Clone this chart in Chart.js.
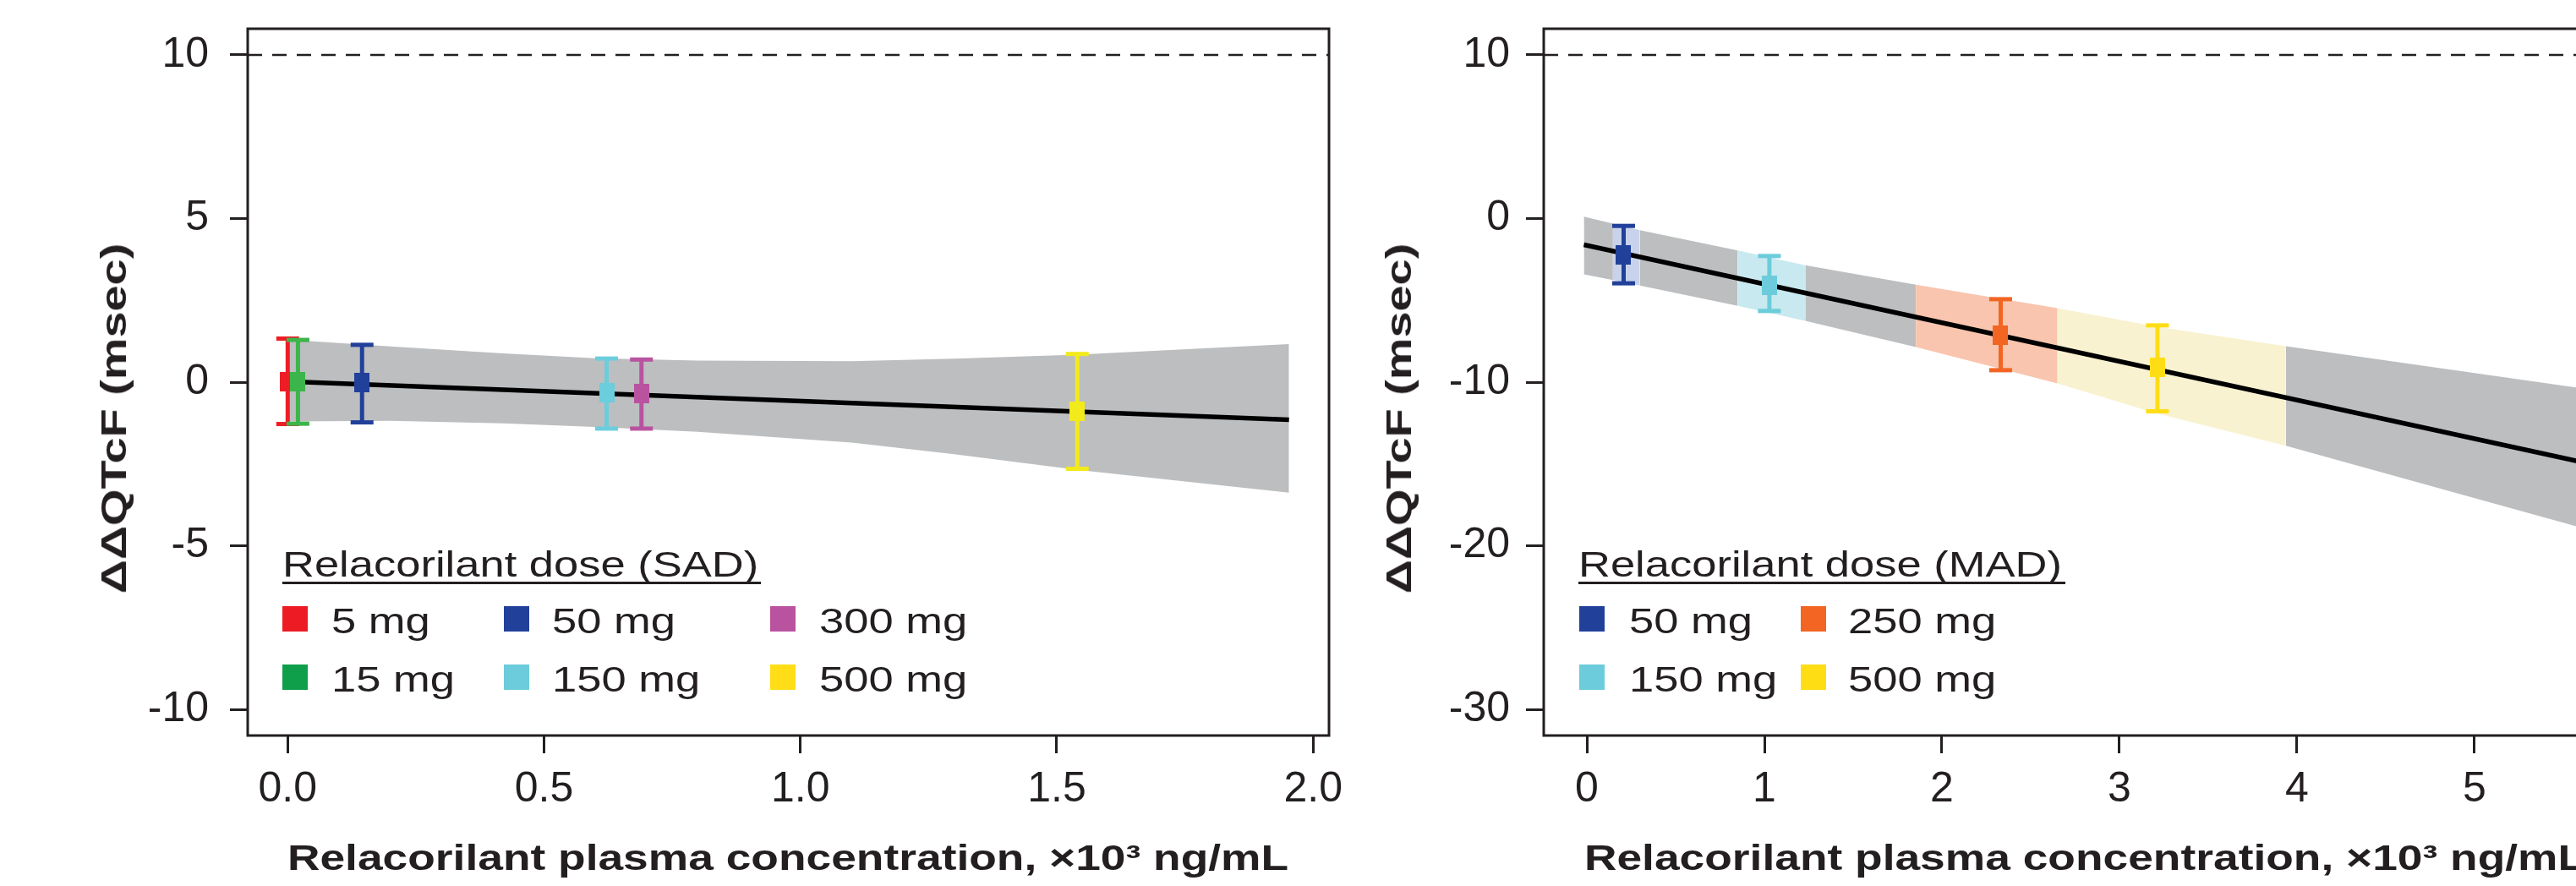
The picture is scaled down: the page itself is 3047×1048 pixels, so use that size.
<!DOCTYPE html>
<html>
<head>
<meta charset="utf-8">
<title>Relacorilant: ΔΔQTcF vs plasma concentration</title>
<script src="https://cdn.jsdelivr.net/npm/chart.js@4.4.1/dist/chart.umd.min.js"></script>
<style>
  html, body { margin: 0; padding: 0; background: #fff; }
  body {
    width: 3047px; height: 1048px; overflow: hidden; position: relative;
    font-family: "Liberation Sans", Arial, Helvetica, sans-serif; color: #231F20;
  }
  canvas { position: absolute; top: 0; }
  #sadChart { left: 0; }
  #madChart { left: 1640px; }
  .key-text {
    position: absolute; white-space: nowrap; font-size: 42px; line-height: 42px;
    transform-origin: 0 0; transform: scaleX(1.25);
  }
  .swatch { position: absolute; width: 30px; height: 30px; }
  .rule { position: absolute; height: 3px; background: #231F20; }
  .x-title, .y-title {
    position: absolute; white-space: nowrap; font-weight: bold; font-size: 42px; line-height: 42px;
  }
  .x-title { transform: translateX(-50%) scaleX(1.27); }
  .y-title { transform: translate(-50%, -50%) rotate(-90deg) scaleX(1.33); }
</style>
</head>
<body>
<canvas id="sadChart" width="1640" height="1048"></canvas>
<canvas id="madChart" width="1560" height="1048"></canvas>
<div id="overlay"></div>

<script>
// ---- SAD panel data (concentration in x10^3 ng/mL, ddQTcF in msec) ----
const sadDoses = ['5 mg', '15 mg', '50 mg', '150 mg', '300 mg', '500 mg'];
const sadConc = [0.0, 0.02, 0.145, 0.622, 0.69, 1.54];
const sadMean = [0.02, 0.02, -0.01, -0.32, -0.36, -0.88];
const sadLow = [-1.28, -1.27, -1.23, -1.42, -1.42, -2.65];
const sadHigh = [1.33, 1.29, 1.14, 0.72, 0.69, 0.86];
const sadMarkColors = ['#EE1D25', '#3CB54A', '#21409A', '#6CCDDC', '#B9539F', '#F3EA1B'];
const sadKeyColors = ['#ED1C24', '#0F9F4A', '#21409A', '#6CCCDB', '#B9529F', '#FFDE17'];

// model line and its confidence band
const sadLineX = [0, 1.953];
const sadLineY = [0.02, -1.15];
const sadBandX = [0, 0.2, 0.42, 0.6, 0.8, 1.1, 1.3, 1.54, 1.953];
const sadBandHigh = [1.3, 1.09, 0.88, 0.73, 0.66, 0.64, 0.72, 0.84, 1.16];
const sadBandLow = [-1.2, -1.18, -1.26, -1.37, -1.52, -1.85, -2.2, -2.68, -3.38];

// axes
const sadXRange = [-0.078, 2.031];
const sadYRange = [-10.8, 10.8];
const sadXTicks = [0, 0.5, 1, 1.5, 2];
const sadYTicks = [-10, -5, 0, 5, 10];

// ---- MAD panel data ----
const madDoses = ['50 mg', '150 mg', '250 mg', '500 mg'];
const madConc = [0.207, 1.028, 2.331, 3.214];
const madMean = [-2.21, -4.10, -7.12, -9.11];
const madLow = [-3.96, -5.65, -9.27, -11.78];
const madHigh = [-0.45, -2.29, -4.93, -6.53];
const madColors = ['#21409A', '#6CCCDB', '#F26522', '#FFDD15'];

const madLineX = [-0.017, 5.62];
const madLineY = [-1.6, -14.92];
const madBandX = [-0.017, 0.147, 0.298, 0.85, 1.23, 1.853, 2.651, 3.205, 3.937, 5.62];
const madBandHigh = [0.12, -0.31, -0.71, -1.95, -2.86, -4.05, -5.48, -6.6, -7.8, -10.4];
const madBandLow = [-3.41, -3.76, -4.10, -5.34, -6.25, -7.86, -10.08, -11.9, -13.89, -18.95];
// band pieces: shaded in the dose colour over each dose's concentration range
const madBandEdges = [[-0.017, 0.147], [0.147, 0.298], [0.298, 0.85], [0.85, 1.23],
                      [1.23, 1.853], [1.853, 2.651], [2.651, 3.937], [3.937, 5.62]];
const madBandColors = ['#BCBEC0', '#C8D3EB', '#BCBEC0', '#C8E9EF',
                       '#BCBEC0', '#F9C5AE', '#F8F2D0', '#BCBEC0'];

const madXRange = [-0.243, 5.848];
const madYRange = [-31.6, 11.6];
const madXTicks = [0, 1, 2, 3, 4, 5];
const madYTicks = [-30, -20, -10, 0, 10];

const refLine = 10;          // dashed threshold
const ink = '#231F20';
const bandGray = '#BCBEC0';

// small filled rectangle used as the mean marker
function markerImage(color) {
  const c = document.createElement('canvas');
  c.width = 18;
  c.height = 23;
  const g = c.getContext('2d');
  g.fillStyle = color;
  g.fillRect(0, 0, c.width, c.height);
  return c;
}

// pairs of upper/lower datasets, lower one filled to the upper one
function bandSets(xs, hi, lo, edges, colors) {
  const sets = [];
  edges.forEach((edge, k) => {
    const idx = xs.map((x, i) => i).filter(i => xs[i] >= edge[0] - 1e-9 && xs[i] <= edge[1] + 1e-9);
    const common = { type: 'line', borderWidth: 0, borderColor: 'rgba(0,0,0,0)', pointRadius: 0, tension: 0, order: 20 };
    sets.push({ ...common, data: idx.map(i => ({ x: xs[i], y: hi[i] })), fill: false });
    sets.push({ ...common, data: idx.map(i => ({ x: xs[i], y: lo[i] })), fill: '-1', backgroundColor: colors[k] });
  });
  return sets;
}

// error bar (line with flat caps) + mean marker for each dose
function doseSets(xs, mean, lo, hi, colors) {
  const sets = [];
  xs.forEach((x, i) => {
    sets.push({
      type: 'line',
      data: [{ x: x, y: lo[i] }, { x: x, y: hi[i] }],
      borderColor: colors[i], borderWidth: 5, tension: 0, fill: false,
      pointStyle: 'line', pointRadius: 13.5, pointBorderWidth: 5,
      pointBorderColor: colors[i], pointBackgroundColor: colors[i],
      order: 5 - i * 0.1
    });
    sets.push({
      type: 'scatter',
      data: [{ x: x, y: mean[i] }],
      pointStyle: markerImage(colors[i]), pointRadius: 10,
      order: 5 - i * 0.1 - 0.05
    });
  });
  return sets;
}

function lineSet(xs, ys) {
  return {
    type: 'line', data: xs.map((x, i) => ({ x: x, y: ys[i] })),
    borderColor: '#000', borderWidth: 5.5, pointRadius: 0, tension: 0, fill: false, order: 8
  };
}

function refSet(xRange) {
  return {
    type: 'line', data: [{ x: xRange[0], y: refLine }, { x: xRange[1], y: refLine }],
    borderColor: ink, borderWidth: 2.5, borderDash: [17, 12], pointRadius: 0, fill: false, order: 15
  };
}

// full frame round the plot area
const boxPlugin = {
  id: 'box',
  afterDatasetsDraw(chart) {
    const a = chart.chartArea;
    const ctx = chart.ctx;
    ctx.save();
    ctx.strokeStyle = ink;
    ctx.lineWidth = 3;
    ctx.strokeRect(a.left, a.top, a.right - a.left, a.bottom - a.top);
    ctx.restore();
  }
};

// fixed axis sizes, no extra room reserved for end labels
function fixSize(s, w, h) {
  if (w != null) s.width = w;
  if (h != null) s.height = h;
  s.paddingTop = 0;
  s.paddingBottom = 0;
  s.paddingLeft = 0;
  s.paddingRight = 0;
}

function makeChart(id, cfg) {
  const tickFont = { family: '"Liberation Sans", Arial, sans-serif', size: 50 };
  const grid = { drawOnChartArea: false, drawTicks: true, tickLength: 21, tickWidth: 3, tickColor: ink };
  return new Chart(document.getElementById(id), {
    type: 'scatter',
    data: { datasets: cfg.datasets },
    plugins: [boxPlugin],
    options: {
      responsive: false,
      animation: false,
      devicePixelRatio: 1,
      layout: { padding: { left: 0, right: cfg.rightPad, top: 34, bottom: 0 } },
      plugins: { legend: { display: false }, tooltip: { enabled: false } },
      scales: {
        x: {
          type: 'linear', min: cfg.xRange[0], max: cfg.xRange[1],
          afterFit: s => fixSize(s, null, 178),
          afterBuildTicks: s => { s.ticks = cfg.xTicks.map(v => ({ value: v })); },
          ticks: { font: tickFont, color: ink, padding: 13, autoSkip: false, maxRotation: 0, callback: cfg.xFormat },
          grid: grid,
          border: { display: false }
        },
        y: {
          type: 'linear', min: cfg.yRange[0], max: cfg.yRange[1],
          afterFit: s => fixSize(s, cfg.yWidth, null),
          afterBuildTicks: s => { s.ticks = cfg.yTicks.map(v => ({ value: v })); },
          ticks: { font: tickFont, color: ink, padding: cfg.yPad, autoSkip: false, callback: v => String(v) },
          grid: grid,
          border: { display: false }
        }
      }
    }
  });
}

makeChart('sadChart', {
  datasets: [
    ...bandSets(sadBandX, sadBandHigh, sadBandLow, [[sadBandX[0], sadBandX[sadBandX.length - 1]]], [bandGray]),
    refSet(sadXRange),
    lineSet(sadLineX, sadLineY),
    ...doseSets(sadConc, sadMean, sadLow, sadHigh, sadMarkColors)
  ],
  xRange: sadXRange, yRange: sadYRange, xTicks: sadXTicks, yTicks: sadYTicks,
  xFormat: v => v.toFixed(1), yWidth: 293, yPad: 25, rightPad: 68
});

makeChart('madChart', {
  datasets: [
    ...bandSets(madBandX, madBandHigh, madBandLow, madBandEdges, madBandColors),
    refSet(madXRange),
    lineSet(madLineX, madLineY),
    ...doseSets(madConc, madMean, madLow, madHigh, madColors)
  ],
  xRange: madXRange, yRange: madYRange, xTicks: madXTicks, yTicks: madYTicks,
  xFormat: v => String(v), yWidth: 186, yPad: 19, rightPad: 95
});

// ---- titles and dose keys as page text ----
const overlay = document.getElementById('overlay');

function addEl(cls, css, text) {
  const el = document.createElement('div');
  el.className = cls;
  Object.assign(el.style, css);
  if (text) el.textContent = text;
  overlay.appendChild(el);
  return el;
}

function addKey(title, doses, colors, left, titleWidth, swatchX, textX) {
  addEl('key-text', { left: left + 'px', top: '647px' }, title);
  addEl('rule', { left: left + 'px', top: '688px', width: titleWidth + 'px' });
  doses.forEach((d, i) => {
    const col = Math.floor(i / 2);
    const row = i % 2;
    addEl('swatch', { left: swatchX[col] + 'px', top: (717 + row * 69) + 'px', background: colors[i] });
    addEl('key-text', { left: textX[col] + 'px', top: (714 + row * 69) + 'px' }, d);
  });
}

addKey('Relacorilant dose (SAD)', sadDoses, sadKeyColors, 334, 566, [334, 596, 911], [392, 653, 969]);
addKey('Relacorilant dose (MAD)', madDoses, madColors, 1867, 576, [1868, 2130], [1927, 2186]);

const xTitle = 'Relacorilant plasma concentration, ×10³ ng/mL';
const yTitle = 'ΔΔQTcF (msec)';
addEl('x-title', { left: '932px', top: '994px' }, xTitle);
addEl('x-title', { left: '2466px', top: '994px' }, xTitle);
addEl('y-title', { left: '135px', top: '495px' }, yTitle);
addEl('y-title', { left: '1655px', top: '495px' }, yTitle);
</script>
</body>
</html>
